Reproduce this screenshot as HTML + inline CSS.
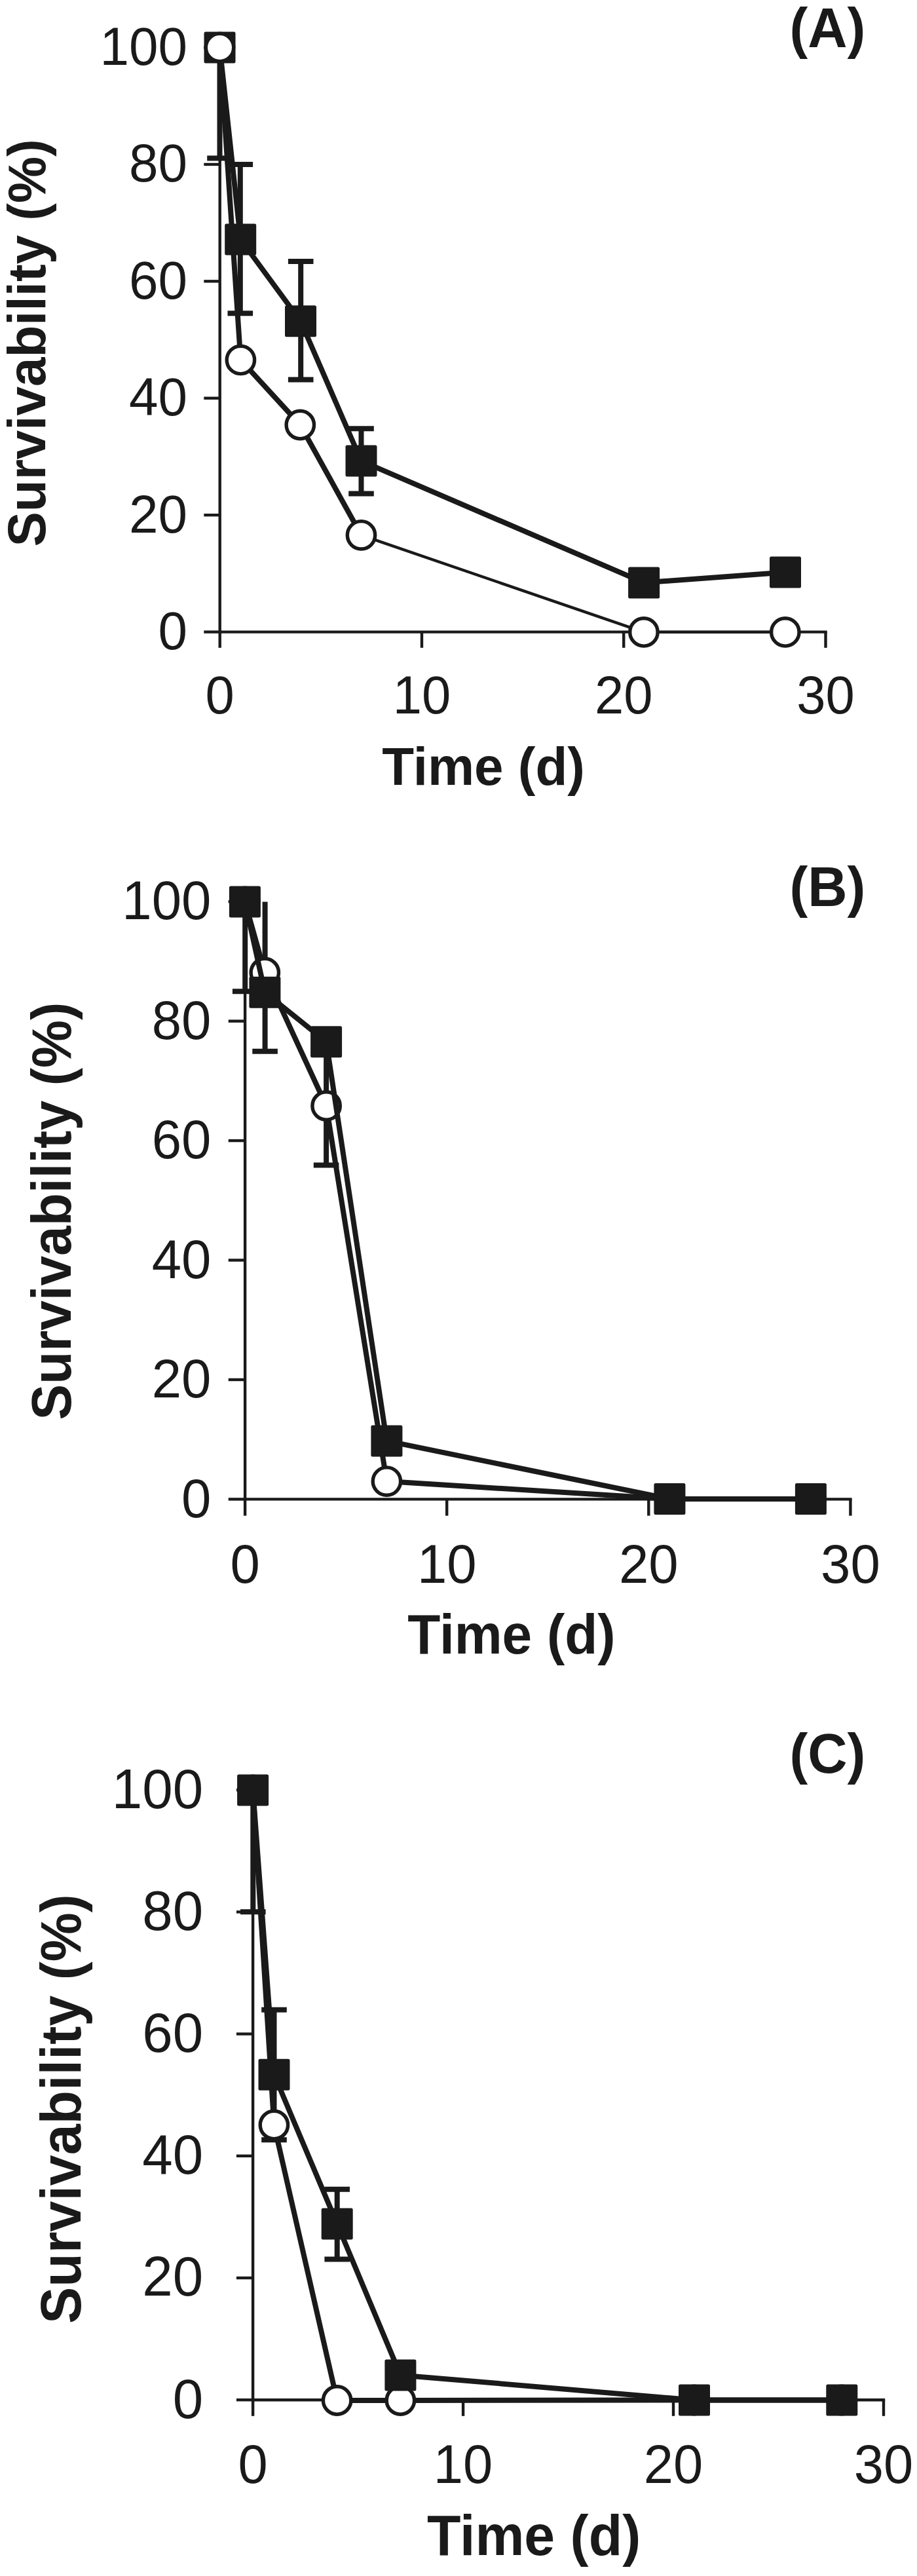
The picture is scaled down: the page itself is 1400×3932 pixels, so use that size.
<!DOCTYPE html>
<html><head><meta charset="utf-8"><title>Survivability</title>
<style>
html,body{margin:0;padding:0;background:#fff;}
svg{display:block;}
text{font-family:'Liberation Sans', Arial, Helvetica, sans-serif;fill:#1a1a1a;}
</style></head><body>
<svg width="1400" height="3932" viewBox="0 0 1400 3932">
<rect width="1400" height="3932" fill="#fff"/>
<line x1="335.70" y1="72.50" x2="335.70" y2="966.80" stroke="#1a1a1a" stroke-width="4.4" stroke-linecap="butt"/>
<line x1="333.50" y1="964.60" x2="1262.70" y2="964.60" stroke="#1a1a1a" stroke-width="4.4" stroke-linecap="butt"/>
<line x1="311.30" y1="964.60" x2="335.70" y2="964.60" stroke="#1a1a1a" stroke-width="4.4" stroke-linecap="butt"/>
<text transform="translate(286.00,991.10) scale(1,1.03)" font-size="80" text-anchor="end">0</text>
<line x1="311.30" y1="786.18" x2="335.70" y2="786.18" stroke="#1a1a1a" stroke-width="4.4" stroke-linecap="butt"/>
<text transform="translate(286.00,812.68) scale(1,1.03)" font-size="80" text-anchor="end">20</text>
<line x1="311.30" y1="607.76" x2="335.70" y2="607.76" stroke="#1a1a1a" stroke-width="4.4" stroke-linecap="butt"/>
<text transform="translate(286.00,634.26) scale(1,1.03)" font-size="80" text-anchor="end">40</text>
<line x1="311.30" y1="429.34" x2="335.70" y2="429.34" stroke="#1a1a1a" stroke-width="4.4" stroke-linecap="butt"/>
<text transform="translate(286.00,455.84) scale(1,1.03)" font-size="80" text-anchor="end">60</text>
<line x1="311.30" y1="250.92" x2="335.70" y2="250.92" stroke="#1a1a1a" stroke-width="4.4" stroke-linecap="butt"/>
<text transform="translate(286.00,277.42) scale(1,1.03)" font-size="80" text-anchor="end">80</text>
<line x1="311.30" y1="72.50" x2="335.70" y2="72.50" stroke="#1a1a1a" stroke-width="4.4" stroke-linecap="butt"/>
<text transform="translate(286.00,99.00) scale(1,1.03)" font-size="80" text-anchor="end">100</text>
<line x1="335.70" y1="964.60" x2="335.70" y2="988.80" stroke="#1a1a1a" stroke-width="4.4" stroke-linecap="butt"/>
<text transform="translate(335.70,1089.00) scale(1,1.03)" font-size="79.6" text-anchor="middle">0</text>
<line x1="643.97" y1="964.60" x2="643.97" y2="988.80" stroke="#1a1a1a" stroke-width="4.4" stroke-linecap="butt"/>
<text transform="translate(643.97,1089.00) scale(1,1.03)" font-size="79.6" text-anchor="middle">10</text>
<line x1="952.23" y1="964.60" x2="952.23" y2="988.80" stroke="#1a1a1a" stroke-width="4.4" stroke-linecap="butt"/>
<text transform="translate(952.23,1089.00) scale(1,1.03)" font-size="79.6" text-anchor="middle">20</text>
<line x1="1260.50" y1="964.60" x2="1260.50" y2="988.80" stroke="#1a1a1a" stroke-width="4.4" stroke-linecap="butt"/>
<text transform="translate(1260.50,1089.00) scale(1,1.03)" font-size="79.6" text-anchor="middle">30</text>
<text transform="translate(583.30,1197.60) scale(1,1.03)" font-size="80" text-anchor="start" font-weight="bold">Time (d)</text>
<text transform="translate(69.00,834.50) rotate(-90) scale(1,1.03)" font-size="80" font-weight="bold">Survivability (%)</text>
<text transform="translate(1205.50,72.00) scale(1,1.02)" font-size="83.5" text-anchor="start" font-weight="bold">(A)</text>
<line x1="335.50" y1="72.50" x2="335.50" y2="241.50" stroke="#1a1a1a" stroke-width="8" stroke-linecap="butt"/>
<line x1="316.20" y1="241.50" x2="354.80" y2="241.50" stroke="#1a1a1a" stroke-width="8" stroke-linecap="butt"/>
<line x1="366.80" y1="251.00" x2="366.80" y2="478.30" stroke="#1a1a1a" stroke-width="8" stroke-linecap="butt"/>
<line x1="347.50" y1="251.00" x2="386.10" y2="251.00" stroke="#1a1a1a" stroke-width="8" stroke-linecap="butt"/>
<line x1="347.50" y1="478.30" x2="386.10" y2="478.30" stroke="#1a1a1a" stroke-width="8" stroke-linecap="butt"/>
<line x1="459.20" y1="398.90" x2="459.20" y2="579.50" stroke="#1a1a1a" stroke-width="8" stroke-linecap="butt"/>
<line x1="439.90" y1="398.90" x2="478.50" y2="398.90" stroke="#1a1a1a" stroke-width="8" stroke-linecap="butt"/>
<line x1="439.90" y1="579.50" x2="478.50" y2="579.50" stroke="#1a1a1a" stroke-width="8" stroke-linecap="butt"/>
<line x1="551.50" y1="654.20" x2="551.50" y2="753.60" stroke="#1a1a1a" stroke-width="8" stroke-linecap="butt"/>
<line x1="532.20" y1="654.20" x2="570.80" y2="654.20" stroke="#1a1a1a" stroke-width="8" stroke-linecap="butt"/>
<line x1="532.20" y1="753.60" x2="570.80" y2="753.60" stroke="#1a1a1a" stroke-width="8" stroke-linecap="butt"/>
<polyline points="335.50,72.50 367.20,365.50 459.00,490.30 551.50,703.60 983.10,889.40 1199.00,873.50" fill="none" stroke="#1a1a1a" stroke-width="8" stroke-linejoin="round"/>
<rect x="311.50" y="48.50" width="48" height="48" rx="2.5" fill="#1a1a1a"/>
<rect x="343.20" y="341.50" width="48" height="48" rx="2.5" fill="#1a1a1a"/>
<rect x="435.00" y="466.30" width="48" height="48" rx="2.5" fill="#1a1a1a"/>
<rect x="527.50" y="679.60" width="48" height="48" rx="2.5" fill="#1a1a1a"/>
<rect x="959.10" y="865.40" width="48" height="48" rx="2.5" fill="#1a1a1a"/>
<rect x="1175.00" y="849.50" width="48" height="48" rx="2.5" fill="#1a1a1a"/>
<polyline points="335.50,72.50 367.40,549.40 458.30,648.50 551.50,816.80" fill="none" stroke="#1a1a1a" stroke-width="8" stroke-linejoin="round"/>
<polyline points="551.50,816.80 982.90,964.90 1198.80,964.90" fill="none" stroke="#1a1a1a" stroke-width="4.4" stroke-linejoin="round"/>
<circle cx="335.50" cy="72.50" r="21.2" fill="#fff" stroke="#1a1a1a" stroke-width="5.4"/>
<circle cx="367.40" cy="549.40" r="21.2" fill="#fff" stroke="#1a1a1a" stroke-width="5.4"/>
<circle cx="458.30" cy="648.50" r="21.2" fill="#fff" stroke="#1a1a1a" stroke-width="5.4"/>
<circle cx="551.50" cy="816.80" r="21.2" fill="#fff" stroke="#1a1a1a" stroke-width="5.4"/>
<circle cx="982.90" cy="964.90" r="21.2" fill="#fff" stroke="#1a1a1a" stroke-width="5.4"/>
<circle cx="1198.80" cy="964.90" r="21.2" fill="#fff" stroke="#1a1a1a" stroke-width="5.4"/>
<line x1="374.10" y1="1376.20" x2="374.10" y2="2290.60" stroke="#1a1a1a" stroke-width="4.4" stroke-linecap="butt"/>
<line x1="371.90" y1="2288.40" x2="1300.60" y2="2288.40" stroke="#1a1a1a" stroke-width="4.4" stroke-linecap="butt"/>
<line x1="348.70" y1="2288.40" x2="374.10" y2="2288.40" stroke="#1a1a1a" stroke-width="4.4" stroke-linecap="butt"/>
<text transform="translate(322.30,2315.50) scale(1,1.03)" font-size="81.5" text-anchor="end">0</text>
<line x1="348.70" y1="2105.96" x2="374.10" y2="2105.96" stroke="#1a1a1a" stroke-width="4.4" stroke-linecap="butt"/>
<text transform="translate(322.30,2133.06) scale(1,1.03)" font-size="81.5" text-anchor="end">20</text>
<line x1="348.70" y1="1923.52" x2="374.10" y2="1923.52" stroke="#1a1a1a" stroke-width="4.4" stroke-linecap="butt"/>
<text transform="translate(322.30,1950.62) scale(1,1.03)" font-size="81.5" text-anchor="end">40</text>
<line x1="348.70" y1="1741.08" x2="374.10" y2="1741.08" stroke="#1a1a1a" stroke-width="4.4" stroke-linecap="butt"/>
<text transform="translate(322.30,1768.18) scale(1,1.03)" font-size="81.5" text-anchor="end">60</text>
<line x1="348.70" y1="1558.64" x2="374.10" y2="1558.64" stroke="#1a1a1a" stroke-width="4.4" stroke-linecap="butt"/>
<text transform="translate(322.30,1585.74) scale(1,1.03)" font-size="81.5" text-anchor="end">80</text>
<line x1="348.70" y1="1376.20" x2="374.10" y2="1376.20" stroke="#1a1a1a" stroke-width="4.4" stroke-linecap="butt"/>
<text transform="translate(322.30,1403.30) scale(1,1.03)" font-size="81.5" text-anchor="end">100</text>
<line x1="374.10" y1="2288.40" x2="374.10" y2="2313.60" stroke="#1a1a1a" stroke-width="4.4" stroke-linecap="butt"/>
<text transform="translate(374.10,2415.60) scale(1,1.03)" font-size="81.5" text-anchor="middle">0</text>
<line x1="682.20" y1="2288.40" x2="682.20" y2="2313.60" stroke="#1a1a1a" stroke-width="4.4" stroke-linecap="butt"/>
<text transform="translate(682.20,2415.60) scale(1,1.03)" font-size="81.5" text-anchor="middle">10</text>
<line x1="990.30" y1="2288.40" x2="990.30" y2="2313.60" stroke="#1a1a1a" stroke-width="4.4" stroke-linecap="butt"/>
<text transform="translate(990.30,2415.60) scale(1,1.03)" font-size="81.5" text-anchor="middle">20</text>
<line x1="1298.40" y1="2288.40" x2="1298.40" y2="2313.60" stroke="#1a1a1a" stroke-width="4.4" stroke-linecap="butt"/>
<text transform="translate(1298.40,2415.60) scale(1,1.03)" font-size="81.5" text-anchor="middle">30</text>
<text transform="translate(622.30,2524.10) scale(1,1.03)" font-size="82" text-anchor="start" font-weight="bold">Time (d)</text>
<text transform="translate(108.00,2167.50) rotate(-90) scale(1,1.03)" font-size="82" font-weight="bold">Survivability (%)</text>
<text transform="translate(1205.50,1382.80) scale(1,1.02)" font-size="83.5" text-anchor="start" font-weight="bold">(B)</text>
<line x1="374.20" y1="1376.40" x2="374.20" y2="1513.20" stroke="#1a1a1a" stroke-width="8" stroke-linecap="butt"/>
<line x1="354.90" y1="1513.20" x2="393.50" y2="1513.20" stroke="#1a1a1a" stroke-width="8" stroke-linecap="butt"/>
<line x1="404.60" y1="1376.60" x2="404.60" y2="1604.80" stroke="#1a1a1a" stroke-width="8" stroke-linecap="butt"/>
<line x1="385.30" y1="1604.80" x2="423.90" y2="1604.80" stroke="#1a1a1a" stroke-width="8" stroke-linecap="butt"/>
<line x1="498.10" y1="1598.00" x2="498.10" y2="1778.60" stroke="#1a1a1a" stroke-width="8" stroke-linecap="butt"/>
<line x1="478.80" y1="1778.60" x2="517.40" y2="1778.60" stroke="#1a1a1a" stroke-width="8" stroke-linecap="butt"/>
<polyline points="373.90,1376.40 404.30,1484.50 498.10,1688.00 590.40,2261.10 1022.40,2288.00 1237.90,2288.00" fill="none" stroke="#1a1a1a" stroke-width="8" stroke-linejoin="round"/>
<circle cx="373.90" cy="1376.40" r="21.2" fill="#fff" stroke="#1a1a1a" stroke-width="5.4"/>
<circle cx="404.30" cy="1484.50" r="21.2" fill="#fff" stroke="#1a1a1a" stroke-width="5.4"/>
<circle cx="498.10" cy="1688.00" r="21.2" fill="#fff" stroke="#1a1a1a" stroke-width="5.4"/>
<circle cx="590.40" cy="2261.10" r="21.2" fill="#fff" stroke="#1a1a1a" stroke-width="5.4"/>
<circle cx="1022.40" cy="2288.00" r="21.2" fill="#fff" stroke="#1a1a1a" stroke-width="5.4"/>
<circle cx="1237.90" cy="2288.00" r="21.2" fill="#fff" stroke="#1a1a1a" stroke-width="5.4"/>
<polyline points="373.90,1376.40 404.40,1514.80 498.10,1590.20 590.40,2199.40 1022.40,2288.00 1237.90,2288.00" fill="none" stroke="#1a1a1a" stroke-width="8" stroke-linejoin="round"/>
<rect x="349.90" y="1352.40" width="48" height="48" rx="2.5" fill="#1a1a1a"/>
<rect x="380.40" y="1490.80" width="48" height="48" rx="2.5" fill="#1a1a1a"/>
<rect x="474.10" y="1566.20" width="48" height="48" rx="2.5" fill="#1a1a1a"/>
<rect x="566.40" y="2175.40" width="48" height="48" rx="2.5" fill="#1a1a1a"/>
<rect x="998.40" y="2264.00" width="48" height="48" rx="2.5" fill="#1a1a1a"/>
<rect x="1213.90" y="2264.00" width="48" height="48" rx="2.5" fill="#1a1a1a"/>
<line x1="386.10" y1="2732.20" x2="386.10" y2="3665.40" stroke="#1a1a1a" stroke-width="4.4" stroke-linecap="butt"/>
<line x1="383.90" y1="3663.20" x2="1351.20" y2="3663.20" stroke="#1a1a1a" stroke-width="4.4" stroke-linecap="butt"/>
<line x1="360.90" y1="3663.20" x2="386.10" y2="3663.20" stroke="#1a1a1a" stroke-width="4.4" stroke-linecap="butt"/>
<text transform="translate(310.10,3690.50) scale(1,1.03)" font-size="83.5" text-anchor="end">0</text>
<line x1="360.90" y1="3477.00" x2="386.10" y2="3477.00" stroke="#1a1a1a" stroke-width="4.4" stroke-linecap="butt"/>
<text transform="translate(310.10,3504.30) scale(1,1.03)" font-size="83.5" text-anchor="end">20</text>
<line x1="360.90" y1="3290.80" x2="386.10" y2="3290.80" stroke="#1a1a1a" stroke-width="4.4" stroke-linecap="butt"/>
<text transform="translate(310.10,3318.10) scale(1,1.03)" font-size="83.5" text-anchor="end">40</text>
<line x1="360.90" y1="3104.60" x2="386.10" y2="3104.60" stroke="#1a1a1a" stroke-width="4.4" stroke-linecap="butt"/>
<text transform="translate(310.10,3131.90) scale(1,1.03)" font-size="83.5" text-anchor="end">60</text>
<line x1="360.90" y1="2918.40" x2="386.10" y2="2918.40" stroke="#1a1a1a" stroke-width="4.4" stroke-linecap="butt"/>
<text transform="translate(310.10,2945.70) scale(1,1.03)" font-size="83.5" text-anchor="end">80</text>
<line x1="360.90" y1="2732.20" x2="386.10" y2="2732.20" stroke="#1a1a1a" stroke-width="4.4" stroke-linecap="butt"/>
<text transform="translate(310.10,2759.50) scale(1,1.03)" font-size="83.5" text-anchor="end">100</text>
<line x1="386.10" y1="3663.20" x2="386.10" y2="3687.80" stroke="#1a1a1a" stroke-width="4.4" stroke-linecap="butt"/>
<text transform="translate(386.10,3789.90) scale(1,1.03)" font-size="81.3" text-anchor="middle">0</text>
<line x1="707.07" y1="3663.20" x2="707.07" y2="3687.80" stroke="#1a1a1a" stroke-width="4.4" stroke-linecap="butt"/>
<text transform="translate(707.07,3789.90) scale(1,1.03)" font-size="81.3" text-anchor="middle">10</text>
<line x1="1028.03" y1="3663.20" x2="1028.03" y2="3687.80" stroke="#1a1a1a" stroke-width="4.4" stroke-linecap="butt"/>
<text transform="translate(1028.03,3789.90) scale(1,1.03)" font-size="81.3" text-anchor="middle">20</text>
<line x1="1349.00" y1="3663.20" x2="1349.00" y2="3687.80" stroke="#1a1a1a" stroke-width="4.4" stroke-linecap="butt"/>
<text transform="translate(1349.00,3789.90) scale(1,1.03)" font-size="81.3" text-anchor="middle">30</text>
<text transform="translate(652.00,3899.70) scale(1,1.03)" font-size="84.3" text-anchor="start" font-weight="bold">Time (d)</text>
<text transform="translate(122.50,3547.00) rotate(-90) scale(1,1.03)" font-size="84.3" font-weight="bold">Survivability (%)</text>
<text transform="translate(1205.50,2706.40) scale(1,1.02)" font-size="83.5" text-anchor="start" font-weight="bold">(C)</text>
<line x1="386.30" y1="2732.40" x2="386.30" y2="2918.20" stroke="#1a1a1a" stroke-width="8" stroke-linecap="butt"/>
<line x1="367.00" y1="2918.20" x2="405.60" y2="2918.20" stroke="#1a1a1a" stroke-width="8" stroke-linecap="butt"/>
<line x1="418.50" y1="3067.70" x2="418.50" y2="3266.20" stroke="#1a1a1a" stroke-width="8" stroke-linecap="butt"/>
<line x1="399.20" y1="3067.70" x2="437.80" y2="3067.70" stroke="#1a1a1a" stroke-width="8" stroke-linecap="butt"/>
<line x1="399.20" y1="3266.20" x2="437.80" y2="3266.20" stroke="#1a1a1a" stroke-width="8" stroke-linecap="butt"/>
<line x1="514.70" y1="3341.80" x2="514.70" y2="3448.60" stroke="#1a1a1a" stroke-width="8" stroke-linecap="butt"/>
<line x1="495.40" y1="3341.80" x2="534.00" y2="3341.80" stroke="#1a1a1a" stroke-width="8" stroke-linecap="butt"/>
<line x1="495.40" y1="3448.60" x2="534.00" y2="3448.60" stroke="#1a1a1a" stroke-width="8" stroke-linecap="butt"/>
<polyline points="386.10,2732.40 418.40,3243.50 514.60,3664.00 611.40,3664.00 1060.00,3663.50 1285.30,3663.50" fill="none" stroke="#1a1a1a" stroke-width="8" stroke-linejoin="round"/>
<circle cx="386.10" cy="2732.40" r="21.2" fill="#fff" stroke="#1a1a1a" stroke-width="5.4"/>
<circle cx="418.40" cy="3243.50" r="21.2" fill="#fff" stroke="#1a1a1a" stroke-width="5.4"/>
<circle cx="514.60" cy="3664.00" r="21.2" fill="#fff" stroke="#1a1a1a" stroke-width="5.4"/>
<circle cx="611.40" cy="3664.00" r="21.2" fill="#fff" stroke="#1a1a1a" stroke-width="5.4"/>
<circle cx="1060.00" cy="3663.50" r="21.2" fill="#fff" stroke="#1a1a1a" stroke-width="5.4"/>
<circle cx="1285.30" cy="3663.50" r="21.2" fill="#fff" stroke="#1a1a1a" stroke-width="5.4"/>
<polyline points="386.10,2732.40 418.50,3166.80 514.70,3394.50 611.40,3625.40 1060.00,3663.50 1285.30,3663.50" fill="none" stroke="#1a1a1a" stroke-width="8" stroke-linejoin="round"/>
<rect x="362.10" y="2708.40" width="48" height="48" rx="2.5" fill="#1a1a1a"/>
<rect x="394.50" y="3142.80" width="48" height="48" rx="2.5" fill="#1a1a1a"/>
<rect x="490.70" y="3370.50" width="48" height="48" rx="2.5" fill="#1a1a1a"/>
<rect x="587.40" y="3601.40" width="48" height="48" rx="2.5" fill="#1a1a1a"/>
<rect x="1036.00" y="3639.50" width="48" height="48" rx="2.5" fill="#1a1a1a"/>
<rect x="1261.30" y="3639.50" width="48" height="48" rx="2.5" fill="#1a1a1a"/>
</svg>
</body></html>
